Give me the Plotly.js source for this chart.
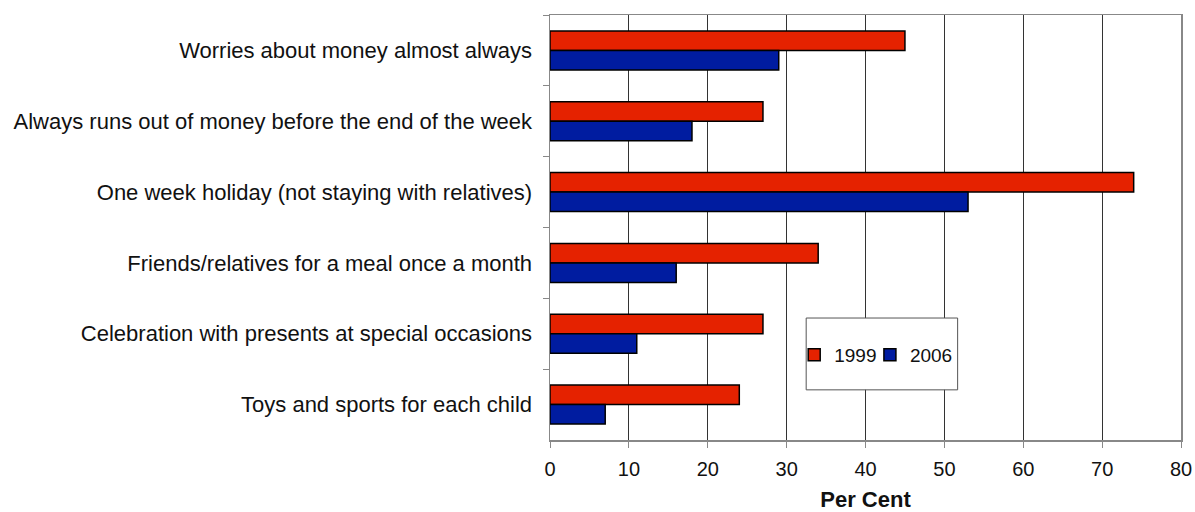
<!DOCTYPE html>
<html><head><meta charset="utf-8">
<script src="https://cdn.plot.ly/plotly-3.0.1.min.js"></script>
<style>html,body{margin:0;padding:0;background:#fff}</style>
</head><body>
<div id="chart" style="width:1195px;height:512px"></div>
<script>
const categories = [
  "Worries about money almost always",
  "Always runs out of money before the end of the week",
  "One week holiday (not staying with relatives)",
  "Friends/relatives for a meal once a month",
  "Celebration with presents at special occasions",
  "Toys and sports for each child"
];
const values1999 = [45, 27, 74, 34, 27, 24];
const values2006 = [29, 18, 53, 16, 11, 7];
const seriesNames = ["1999", "2006"];
const xTicks = [0, 10, 20, 30, 40, 50, 60, 70, 80];

const font = "Liberation Sans, Arial, sans-serif";
const traces = [
  {type:'bar', orientation:'h', name:seriesNames[0], y:categories, x:values1999,
   legend:'legend',
   marker:{color:'#E52200', line:{color:'#000', width:1.5}}},
  {type:'bar', orientation:'h', name:seriesNames[1], y:categories, x:values2006,
   legend:'legend2',
   marker:{color:'#001CA0', line:{color:'#000', width:1.5}}}
];
const legendBase = {orientation:'h', y:0.2, xanchor:'left', yanchor:'middle',
  bgcolor:'rgba(0,0,0,0)', borderwidth:0, font:{size:19, family:font, color:'#111'},
  itemwidth:30};
const layout = {
  width:1195, height:512,
  margin:{l:550, r:14, t:15, b:72},
  paper_bgcolor:'#fff', plot_bgcolor:'#fff',
  font:{family:font, size:22, color:'#111'},
  barmode:'group', bargap:0.45, bargroupgap:0,
  showlegend:true,
  legend:Object.assign({}, legendBase, {x:0.387}),
  legend2:Object.assign({}, legendBase, {x:0.507}),
  shapes:[{type:'rect', xref:'paper', yref:'paper', x0:0.406, x1:0.646, y0:0.118, y1:0.287,
    fillcolor:'#fff', line:{color:'#555', width:1}, layer:'above'}],
  xaxis:{range:[0,80], tickvals:xTicks, ticktext:xTicks.map(String),
    showgrid:true, gridcolor:'#333', gridwidth:1,
    showline:true, linecolor:'#888', linewidth:1.5, mirror:true,
    ticks:'outside', ticklen:6, tickcolor:'#888', zeroline:false, ticklabelstandoff:4,
    title:{text:'<b>Per Cent</b>', font:{size:22, family:font, color:'#111'}, standoff:18},
    tickfont:{size:20, family:font, color:'#111'}},
  yaxis:{type:'category', autorange:'reversed', showgrid:false,
    showline:true, linecolor:'#888', linewidth:1.5, mirror:true,
    ticks:'outside', tickson:'boundaries', ticklen:6, tickcolor:'#888',
    ticklabelstandoff:12,
    tickfont:{size:22, family:font, color:'#111'}}
};
Plotly.newPlot('chart', traces, layout, {displayModeBar:false, staticPlot:true});
</script>
</body></html>
